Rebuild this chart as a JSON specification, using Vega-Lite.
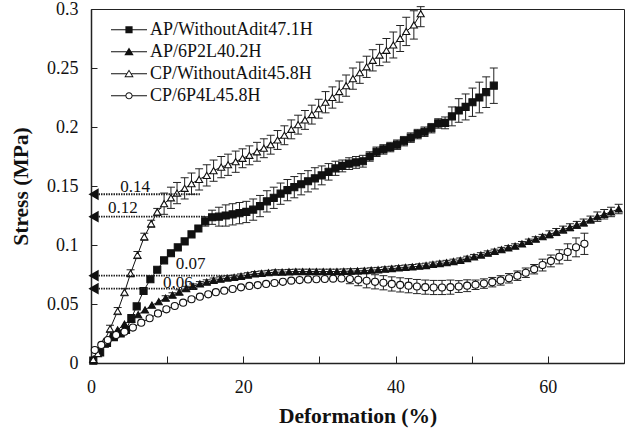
{
  "$schema": "https://vega.github.io/schema/vega-lite/v6.json",
  "width": 533,
  "height": 354,
  "autosize": {"type": "none"},
  "padding": {"left": 91, "top": 9, "right": 2, "bottom": 73},
  "background": "white",
  "config": {
    "font": "Liberation Serif",
    "view": {"stroke": "#222", "strokeWidth": 1},
    "axis": {
      "grid": false,
      "domainColor": "#222",
      "tickColor": "#222",
      "labelFont": "Liberation Serif",
      "labelFontSize": 18,
      "labelColor": "#111",
      "titleFont": "Liberation Serif",
      "titleFontSize": 21.5,
      "titleFontWeight": "bold",
      "titleColor": "#111"
    }
  },
  "resolve": {"scale": {"shape": "independent", "fill": "independent"}},
  "datasets": {
    "s": [
      {"s": "AP/WithoutAdit47.1H", "x": 0.3, "y": 0.002},
      {"s": "AP/WithoutAdit47.1H", "x": 1.2, "y": 0.009},
      {"s": "AP/WithoutAdit47.1H", "x": 2.1, "y": 0.017},
      {"s": "AP/WithoutAdit47.1H", "x": 3.0, "y": 0.022},
      {"s": "AP/WithoutAdit47.1H", "x": 3.9, "y": 0.025},
      {"s": "AP/WithoutAdit47.1H", "x": 4.6, "y": 0.028},
      {"s": "AP/WithoutAdit47.1H", "x": 5.3, "y": 0.038},
      {"s": "AP/WithoutAdit47.1H", "x": 6.0, "y": 0.048},
      {"s": "AP/WithoutAdit47.1H", "x": 6.9, "y": 0.061},
      {"s": "AP/WithoutAdit47.1H", "x": 7.8, "y": 0.071},
      {"s": "AP/WithoutAdit47.1H", "x": 8.7, "y": 0.079},
      {"s": "AP/WithoutAdit47.1H", "x": 9.6, "y": 0.087},
      {"s": "AP/WithoutAdit47.1H", "x": 10.5, "y": 0.093},
      {"s": "AP/WithoutAdit47.1H", "x": 11.4, "y": 0.098},
      {"s": "AP/WithoutAdit47.1H", "x": 12.3, "y": 0.103},
      {"s": "AP/WithoutAdit47.1H", "x": 13.2, "y": 0.109},
      {"s": "AP/WithoutAdit47.1H", "x": 14.1, "y": 0.114},
      {"s": "AP/WithoutAdit47.1H", "x": 15.0, "y": 0.120, "lo": 0.116, "hi": 0.124},
      {"s": "AP/WithoutAdit47.1H", "x": 15.9, "y": 0.1235, "lo": 0.1175, "hi": 0.1295},
      {"s": "AP/WithoutAdit47.1H", "x": 16.8, "y": 0.124, "lo": 0.116, "hi": 0.132},
      {"s": "AP/WithoutAdit47.1H", "x": 17.7, "y": 0.125, "lo": 0.116, "hi": 0.134},
      {"s": "AP/WithoutAdit47.1H", "x": 18.6, "y": 0.126, "lo": 0.117, "hi": 0.135},
      {"s": "AP/WithoutAdit47.1H", "x": 19.5, "y": 0.127, "lo": 0.118, "hi": 0.136},
      {"s": "AP/WithoutAdit47.1H", "x": 20.4, "y": 0.128, "lo": 0.119, "hi": 0.137},
      {"s": "AP/WithoutAdit47.1H", "x": 21.3, "y": 0.130, "lo": 0.121, "hi": 0.139},
      {"s": "AP/WithoutAdit47.1H", "x": 22.2, "y": 0.133, "lo": 0.124, "hi": 0.142},
      {"s": "AP/WithoutAdit47.1H", "x": 23.1, "y": 0.137, "lo": 0.128, "hi": 0.146},
      {"s": "AP/WithoutAdit47.1H", "x": 24.0, "y": 0.140, "lo": 0.131, "hi": 0.149},
      {"s": "AP/WithoutAdit47.1H", "x": 24.9, "y": 0.1435, "lo": 0.1345, "hi": 0.1525},
      {"s": "AP/WithoutAdit47.1H", "x": 25.8, "y": 0.1465, "lo": 0.1375, "hi": 0.1555},
      {"s": "AP/WithoutAdit47.1H", "x": 26.7, "y": 0.149, "lo": 0.140, "hi": 0.158},
      {"s": "AP/WithoutAdit47.1H", "x": 27.6, "y": 0.1515, "lo": 0.1425, "hi": 0.1605},
      {"s": "AP/WithoutAdit47.1H", "x": 28.5, "y": 0.154, "lo": 0.145, "hi": 0.163},
      {"s": "AP/WithoutAdit47.1H", "x": 29.4, "y": 0.1565, "lo": 0.1475, "hi": 0.1655},
      {"s": "AP/WithoutAdit47.1H", "x": 30.3, "y": 0.159, "lo": 0.151, "hi": 0.167},
      {"s": "AP/WithoutAdit47.1H", "x": 31.2, "y": 0.162, "lo": 0.155, "hi": 0.169},
      {"s": "AP/WithoutAdit47.1H", "x": 32.1, "y": 0.165, "lo": 0.159, "hi": 0.171},
      {"s": "AP/WithoutAdit47.1H", "x": 33.0, "y": 0.167, "lo": 0.162, "hi": 0.172},
      {"s": "AP/WithoutAdit47.1H", "x": 33.9, "y": 0.169, "lo": 0.164, "hi": 0.174},
      {"s": "AP/WithoutAdit47.1H", "x": 34.8, "y": 0.170, "lo": 0.165, "hi": 0.175},
      {"s": "AP/WithoutAdit47.1H", "x": 35.7, "y": 0.171, "lo": 0.166, "hi": 0.176},
      {"s": "AP/WithoutAdit47.1H", "x": 36.6, "y": 0.175, "lo": 0.171, "hi": 0.179},
      {"s": "AP/WithoutAdit47.1H", "x": 37.5, "y": 0.179, "lo": 0.175, "hi": 0.183},
      {"s": "AP/WithoutAdit47.1H", "x": 38.4, "y": 0.181, "lo": 0.177, "hi": 0.185},
      {"s": "AP/WithoutAdit47.1H", "x": 39.3, "y": 0.183, "lo": 0.179, "hi": 0.187},
      {"s": "AP/WithoutAdit47.1H", "x": 40.2, "y": 0.185, "lo": 0.181, "hi": 0.189},
      {"s": "AP/WithoutAdit47.1H", "x": 41.1, "y": 0.188, "lo": 0.184, "hi": 0.192},
      {"s": "AP/WithoutAdit47.1H", "x": 42.0, "y": 0.191, "lo": 0.187, "hi": 0.195},
      {"s": "AP/WithoutAdit47.1H", "x": 42.9, "y": 0.194, "lo": 0.190, "hi": 0.198},
      {"s": "AP/WithoutAdit47.1H", "x": 43.8, "y": 0.196, "lo": 0.192, "hi": 0.200},
      {"s": "AP/WithoutAdit47.1H", "x": 44.7, "y": 0.199, "lo": 0.195, "hi": 0.203},
      {"s": "AP/WithoutAdit47.1H", "x": 45.6, "y": 0.203, "lo": 0.199, "hi": 0.207},
      {"s": "AP/WithoutAdit47.1H", "x": 46.5, "y": 0.2035, "lo": 0.1985, "hi": 0.2085},
      {"s": "AP/WithoutAdit47.1H", "x": 47.4, "y": 0.209, "lo": 0.201, "hi": 0.217},
      {"s": "AP/WithoutAdit47.1H", "x": 48.3, "y": 0.214, "lo": 0.204, "hi": 0.224},
      {"s": "AP/WithoutAdit47.1H", "x": 49.2, "y": 0.217, "lo": 0.206, "hi": 0.228},
      {"s": "AP/WithoutAdit47.1H", "x": 50.1, "y": 0.221, "lo": 0.209, "hi": 0.233},
      {"s": "AP/WithoutAdit47.1H", "x": 51.0, "y": 0.225, "lo": 0.212, "hi": 0.238},
      {"s": "AP/WithoutAdit47.1H", "x": 51.9, "y": 0.2295, "lo": 0.2165, "hi": 0.2425},
      {"s": "AP/WithoutAdit47.1H", "x": 52.9, "y": 0.235, "lo": 0.220, "hi": 0.250},

      {"s": "AP/6P2L40.2H", "x": 0.3, "y": 0.003},
      {"s": "AP/6P2L40.2H", "x": 1.0, "y": 0.009},
      {"s": "AP/6P2L40.2H", "x": 1.8, "y": 0.016},
      {"s": "AP/6P2L40.2H", "x": 2.6, "y": 0.022},
      {"s": "AP/6P2L40.2H", "x": 3.5, "y": 0.028},
      {"s": "AP/6P2L40.2H", "x": 4.4, "y": 0.033},
      {"s": "AP/6P2L40.2H", "x": 5.3, "y": 0.037},
      {"s": "AP/6P2L40.2H", "x": 6.2, "y": 0.041},
      {"s": "AP/6P2L40.2H", "x": 7.1, "y": 0.045},
      {"s": "AP/6P2L40.2H", "x": 8.0, "y": 0.049},
      {"s": "AP/6P2L40.2H", "x": 8.9, "y": 0.052},
      {"s": "AP/6P2L40.2H", "x": 9.8, "y": 0.055, "lo": 0.053, "hi": 0.057},
      {"s": "AP/6P2L40.2H", "x": 10.7, "y": 0.0575, "lo": 0.0555, "hi": 0.0595},
      {"s": "AP/6P2L40.2H", "x": 11.6, "y": 0.060, "lo": 0.058, "hi": 0.062},
      {"s": "AP/6P2L40.2H", "x": 12.5, "y": 0.063, "lo": 0.061, "hi": 0.065},
      {"s": "AP/6P2L40.2H", "x": 13.4, "y": 0.065, "lo": 0.063, "hi": 0.067},
      {"s": "AP/6P2L40.2H", "x": 14.3, "y": 0.067, "lo": 0.065, "hi": 0.069},
      {"s": "AP/6P2L40.2H", "x": 15.2, "y": 0.0685, "lo": 0.0665, "hi": 0.0705},
      {"s": "AP/6P2L40.2H", "x": 16.1, "y": 0.070, "lo": 0.068, "hi": 0.072},
      {"s": "AP/6P2L40.2H", "x": 17.0, "y": 0.071, "lo": 0.069, "hi": 0.073},
      {"s": "AP/6P2L40.2H", "x": 17.9, "y": 0.072, "lo": 0.070, "hi": 0.074},
      {"s": "AP/6P2L40.2H", "x": 18.8, "y": 0.0725, "lo": 0.0705, "hi": 0.0745},
      {"s": "AP/6P2L40.2H", "x": 19.7, "y": 0.0735, "lo": 0.0715, "hi": 0.0755},
      {"s": "AP/6P2L40.2H", "x": 20.6, "y": 0.0745, "lo": 0.0725, "hi": 0.0765},
      {"s": "AP/6P2L40.2H", "x": 21.5, "y": 0.0755, "lo": 0.0735, "hi": 0.0775},
      {"s": "AP/6P2L40.2H", "x": 22.4, "y": 0.076, "lo": 0.074, "hi": 0.078},
      {"s": "AP/6P2L40.2H", "x": 23.3, "y": 0.0765, "lo": 0.0745, "hi": 0.0785},
      {"s": "AP/6P2L40.2H", "x": 24.2, "y": 0.077, "lo": 0.075, "hi": 0.079},
      {"s": "AP/6P2L40.2H", "x": 25.1, "y": 0.077, "lo": 0.075, "hi": 0.079},
      {"s": "AP/6P2L40.2H", "x": 26.0, "y": 0.0773, "lo": 0.0753, "hi": 0.0793},
      {"s": "AP/6P2L40.2H", "x": 26.9, "y": 0.0775, "lo": 0.0755, "hi": 0.0795},
      {"s": "AP/6P2L40.2H", "x": 27.8, "y": 0.0775, "lo": 0.0755, "hi": 0.0795},
      {"s": "AP/6P2L40.2H", "x": 28.7, "y": 0.0775, "lo": 0.0755, "hi": 0.0795},
      {"s": "AP/6P2L40.2H", "x": 29.6, "y": 0.0775, "lo": 0.0755, "hi": 0.0795},
      {"s": "AP/6P2L40.2H", "x": 30.5, "y": 0.0775, "lo": 0.0755, "hi": 0.0795},
      {"s": "AP/6P2L40.2H", "x": 31.4, "y": 0.0775, "lo": 0.0755, "hi": 0.0795},
      {"s": "AP/6P2L40.2H", "x": 32.3, "y": 0.0775, "lo": 0.0755, "hi": 0.0795},
      {"s": "AP/6P2L40.2H", "x": 33.2, "y": 0.0777, "lo": 0.0757, "hi": 0.0797},
      {"s": "AP/6P2L40.2H", "x": 34.1, "y": 0.0778, "lo": 0.0758, "hi": 0.0798},
      {"s": "AP/6P2L40.2H", "x": 35.0, "y": 0.078, "lo": 0.076, "hi": 0.080},
      {"s": "AP/6P2L40.2H", "x": 35.9, "y": 0.0783, "lo": 0.0763, "hi": 0.0803},
      {"s": "AP/6P2L40.2H", "x": 36.8, "y": 0.0787, "lo": 0.0767, "hi": 0.0807},
      {"s": "AP/6P2L40.2H", "x": 37.7, "y": 0.079, "lo": 0.077, "hi": 0.081},
      {"s": "AP/6P2L40.2H", "x": 38.6, "y": 0.0795, "lo": 0.0775, "hi": 0.0815},
      {"s": "AP/6P2L40.2H", "x": 39.5, "y": 0.080, "lo": 0.078, "hi": 0.082},
      {"s": "AP/6P2L40.2H", "x": 40.4, "y": 0.0805, "lo": 0.0785, "hi": 0.0825},
      {"s": "AP/6P2L40.2H", "x": 41.3, "y": 0.081, "lo": 0.079, "hi": 0.083},
      {"s": "AP/6P2L40.2H", "x": 42.2, "y": 0.0815, "lo": 0.0795, "hi": 0.0835},
      {"s": "AP/6P2L40.2H", "x": 43.1, "y": 0.082, "lo": 0.080, "hi": 0.084},
      {"s": "AP/6P2L40.2H", "x": 44.0, "y": 0.0826, "lo": 0.0806, "hi": 0.0846},
      {"s": "AP/6P2L40.2H", "x": 44.9, "y": 0.0835, "lo": 0.0815, "hi": 0.0855},
      {"s": "AP/6P2L40.2H", "x": 45.8, "y": 0.0843, "lo": 0.0823, "hi": 0.0863},
      {"s": "AP/6P2L40.2H", "x": 46.7, "y": 0.085, "lo": 0.083, "hi": 0.087},
      {"s": "AP/6P2L40.2H", "x": 47.6, "y": 0.086, "lo": 0.084, "hi": 0.088},
      {"s": "AP/6P2L40.2H", "x": 48.5, "y": 0.087, "lo": 0.085, "hi": 0.089},
      {"s": "AP/6P2L40.2H", "x": 49.4, "y": 0.0885, "lo": 0.0865, "hi": 0.0905},
      {"s": "AP/6P2L40.2H", "x": 50.3, "y": 0.090, "lo": 0.088, "hi": 0.092},
      {"s": "AP/6P2L40.2H", "x": 51.2, "y": 0.0915, "lo": 0.0895, "hi": 0.0935},
      {"s": "AP/6P2L40.2H", "x": 52.1, "y": 0.093, "lo": 0.091, "hi": 0.095},
      {"s": "AP/6P2L40.2H", "x": 53.0, "y": 0.0945, "lo": 0.0925, "hi": 0.0965},
      {"s": "AP/6P2L40.2H", "x": 53.9, "y": 0.096, "lo": 0.094, "hi": 0.098},
      {"s": "AP/6P2L40.2H", "x": 54.8, "y": 0.0975, "lo": 0.0955, "hi": 0.0995},
      {"s": "AP/6P2L40.2H", "x": 55.7, "y": 0.099, "lo": 0.097, "hi": 0.101},
      {"s": "AP/6P2L40.2H", "x": 56.6, "y": 0.101, "lo": 0.099, "hi": 0.103},
      {"s": "AP/6P2L40.2H", "x": 57.5, "y": 0.103, "lo": 0.101, "hi": 0.105},
      {"s": "AP/6P2L40.2H", "x": 58.4, "y": 0.105, "lo": 0.103, "hi": 0.107},
      {"s": "AP/6P2L40.2H", "x": 59.3, "y": 0.107, "lo": 0.105, "hi": 0.109},
      {"s": "AP/6P2L40.2H", "x": 60.2, "y": 0.109, "lo": 0.106, "hi": 0.112},
      {"s": "AP/6P2L40.2H", "x": 61.1, "y": 0.111, "lo": 0.108, "hi": 0.114},
      {"s": "AP/6P2L40.2H", "x": 62.0, "y": 0.113, "lo": 0.110, "hi": 0.116},
      {"s": "AP/6P2L40.2H", "x": 62.9, "y": 0.115, "lo": 0.112, "hi": 0.118},
      {"s": "AP/6P2L40.2H", "x": 63.8, "y": 0.117, "lo": 0.114, "hi": 0.120},
      {"s": "AP/6P2L40.2H", "x": 64.7, "y": 0.119, "lo": 0.116, "hi": 0.122},
      {"s": "AP/6P2L40.2H", "x": 65.6, "y": 0.1215, "lo": 0.1185, "hi": 0.1245},
      {"s": "AP/6P2L40.2H", "x": 66.5, "y": 0.124, "lo": 0.120, "hi": 0.128},
      {"s": "AP/6P2L40.2H", "x": 67.4, "y": 0.126, "lo": 0.122, "hi": 0.130},
      {"s": "AP/6P2L40.2H", "x": 68.3, "y": 0.128, "lo": 0.124, "hi": 0.132},
      {"s": "AP/6P2L40.2H", "x": 69.3, "y": 0.1305, "lo": 0.1265, "hi": 0.1345},

      {"s": "CP/WithoutAdit45.8H", "x": 0.3, "y": 0.003},
      {"s": "CP/WithoutAdit45.8H", "x": 0.9, "y": 0.008},
      {"s": "CP/WithoutAdit45.8H", "x": 1.7, "y": 0.018},
      {"s": "CP/WithoutAdit45.8H", "x": 2.5, "y": 0.029, "lo": 0.026, "hi": 0.032},
      {"s": "CP/WithoutAdit45.8H", "x": 3.5, "y": 0.044, "lo": 0.041, "hi": 0.047},
      {"s": "CP/WithoutAdit45.8H", "x": 4.4, "y": 0.060, "lo": 0.057, "hi": 0.063},
      {"s": "CP/WithoutAdit45.8H", "x": 5.2, "y": 0.076, "lo": 0.073, "hi": 0.079},
      {"s": "CP/WithoutAdit45.8H", "x": 6.1, "y": 0.0915, "lo": 0.0885, "hi": 0.0945},
      {"s": "CP/WithoutAdit45.8H", "x": 7.0, "y": 0.107, "lo": 0.104, "hi": 0.110},
      {"s": "CP/WithoutAdit45.8H", "x": 7.9, "y": 0.118, "lo": 0.115, "hi": 0.121},
      {"s": "CP/WithoutAdit45.8H", "x": 8.7, "y": 0.128, "lo": 0.125, "hi": 0.131},
      {"s": "CP/WithoutAdit45.8H", "x": 9.6, "y": 0.135, "lo": 0.126, "hi": 0.144},
      {"s": "CP/WithoutAdit45.8H", "x": 10.5, "y": 0.140, "lo": 0.131, "hi": 0.149},
      {"s": "CP/WithoutAdit45.8H", "x": 11.3, "y": 0.144, "lo": 0.135, "hi": 0.153},
      {"s": "CP/WithoutAdit45.8H", "x": 12.3, "y": 0.148, "lo": 0.139, "hi": 0.157},
      {"s": "CP/WithoutAdit45.8H", "x": 13.2, "y": 0.152, "lo": 0.143, "hi": 0.161},
      {"s": "CP/WithoutAdit45.8H", "x": 14.2, "y": 0.1556, "lo": 0.1466, "hi": 0.1646},
      {"s": "CP/WithoutAdit45.8H", "x": 15.2, "y": 0.159, "lo": 0.150, "hi": 0.168},
      {"s": "CP/WithoutAdit45.8H", "x": 16.1, "y": 0.163, "lo": 0.154, "hi": 0.172},
      {"s": "CP/WithoutAdit45.8H", "x": 17.1, "y": 0.166, "lo": 0.157, "hi": 0.175},
      {"s": "CP/WithoutAdit45.8H", "x": 18.0, "y": 0.168, "lo": 0.159, "hi": 0.177},
      {"s": "CP/WithoutAdit45.8H", "x": 19.0, "y": 0.1706, "lo": 0.1616, "hi": 0.1796},
      {"s": "CP/WithoutAdit45.8H", "x": 19.9, "y": 0.1735, "lo": 0.1655, "hi": 0.1815},
      {"s": "CP/WithoutAdit45.8H", "x": 20.8, "y": 0.176, "lo": 0.168, "hi": 0.184},
      {"s": "CP/WithoutAdit45.8H", "x": 21.8, "y": 0.179, "lo": 0.171, "hi": 0.187},
      {"s": "CP/WithoutAdit45.8H", "x": 22.7, "y": 0.182, "lo": 0.174, "hi": 0.190},
      {"s": "CP/WithoutAdit45.8H", "x": 23.6, "y": 0.185, "lo": 0.177, "hi": 0.193},
      {"s": "CP/WithoutAdit45.8H", "x": 24.5, "y": 0.189, "lo": 0.181, "hi": 0.197},
      {"s": "CP/WithoutAdit45.8H", "x": 25.4, "y": 0.193, "lo": 0.185, "hi": 0.201},
      {"s": "CP/WithoutAdit45.8H", "x": 26.3, "y": 0.198, "lo": 0.190, "hi": 0.206},
      {"s": "CP/WithoutAdit45.8H", "x": 27.2, "y": 0.202, "lo": 0.194, "hi": 0.210},
      {"s": "CP/WithoutAdit45.8H", "x": 28.1, "y": 0.206, "lo": 0.198, "hi": 0.214},
      {"s": "CP/WithoutAdit45.8H", "x": 29.0, "y": 0.2105, "lo": 0.2025, "hi": 0.2185},
      {"s": "CP/WithoutAdit45.8H", "x": 29.9, "y": 0.2155, "lo": 0.2075, "hi": 0.2235},
      {"s": "CP/WithoutAdit45.8H", "x": 30.8, "y": 0.221, "lo": 0.212, "hi": 0.230},
      {"s": "CP/WithoutAdit45.8H", "x": 31.7, "y": 0.225, "lo": 0.216, "hi": 0.234},
      {"s": "CP/WithoutAdit45.8H", "x": 32.6, "y": 0.230, "lo": 0.221, "hi": 0.239},
      {"s": "CP/WithoutAdit45.8H", "x": 33.5, "y": 0.235, "lo": 0.226, "hi": 0.244},
      {"s": "CP/WithoutAdit45.8H", "x": 34.4, "y": 0.241, "lo": 0.232, "hi": 0.250},
      {"s": "CP/WithoutAdit45.8H", "x": 35.3, "y": 0.246, "lo": 0.237, "hi": 0.255},
      {"s": "CP/WithoutAdit45.8H", "x": 36.2, "y": 0.251, "lo": 0.242, "hi": 0.260},
      {"s": "CP/WithoutAdit45.8H", "x": 37.0, "y": 0.2565, "lo": 0.2475, "hi": 0.2655},
      {"s": "CP/WithoutAdit45.8H", "x": 37.9, "y": 0.261, "lo": 0.252, "hi": 0.270},
      {"s": "CP/WithoutAdit45.8H", "x": 38.8, "y": 0.265, "lo": 0.255, "hi": 0.275},
      {"s": "CP/WithoutAdit45.8H", "x": 39.7, "y": 0.2695, "lo": 0.2585, "hi": 0.2805},
      {"s": "CP/WithoutAdit45.8H", "x": 40.6, "y": 0.275, "lo": 0.264, "hi": 0.286},
      {"s": "CP/WithoutAdit45.8H", "x": 41.4, "y": 0.281, "lo": 0.269, "hi": 0.293},
      {"s": "CP/WithoutAdit45.8H", "x": 42.4, "y": 0.2865, "lo": 0.2745, "hi": 0.2985},
      {"s": "CP/WithoutAdit45.8H", "x": 43.3, "y": 0.296, "lo": 0.285, "hi": 0.302},

      {"s": "CP/6P4L45.8H", "x": 0.5, "y": 0.011},
      {"s": "CP/6P4L45.8H", "x": 1.35, "y": 0.0153},
      {"s": "CP/6P4L45.8H", "x": 2.2, "y": 0.0195},
      {"s": "CP/6P4L45.8H", "x": 3.3, "y": 0.0237},
      {"s": "CP/6P4L45.8H", "x": 4.4, "y": 0.0265},
      {"s": "CP/6P4L45.8H", "x": 5.5, "y": 0.030},
      {"s": "CP/6P4L45.8H", "x": 6.6, "y": 0.0342},
      {"s": "CP/6P4L45.8H", "x": 7.7, "y": 0.0379},
      {"s": "CP/6P4L45.8H", "x": 8.8, "y": 0.042},
      {"s": "CP/6P4L45.8H", "x": 9.9, "y": 0.0455},
      {"s": "CP/6P4L45.8H", "x": 11.0, "y": 0.0483},
      {"s": "CP/6P4L45.8H", "x": 12.1, "y": 0.0511},
      {"s": "CP/6P4L45.8H", "x": 13.2, "y": 0.054},
      {"s": "CP/6P4L45.8H", "x": 14.3, "y": 0.0562},
      {"s": "CP/6P4L45.8H", "x": 15.4, "y": 0.0582},
      {"s": "CP/6P4L45.8H", "x": 16.4, "y": 0.060},
      {"s": "CP/6P4L45.8H", "x": 17.5, "y": 0.0613},
      {"s": "CP/6P4L45.8H", "x": 18.6, "y": 0.0627},
      {"s": "CP/6P4L45.8H", "x": 19.7, "y": 0.0641},
      {"s": "CP/6P4L45.8H", "x": 20.8, "y": 0.0653},
      {"s": "CP/6P4L45.8H", "x": 21.9, "y": 0.066},
      {"s": "CP/6P4L45.8H", "x": 23.0, "y": 0.067},
      {"s": "CP/6P4L45.8H", "x": 24.1, "y": 0.0678},
      {"s": "CP/6P4L45.8H", "x": 25.2, "y": 0.0688},
      {"s": "CP/6P4L45.8H", "x": 26.3, "y": 0.0698},
      {"s": "CP/6P4L45.8H", "x": 27.4, "y": 0.0703},
      {"s": "CP/6P4L45.8H", "x": 28.5, "y": 0.0708},
      {"s": "CP/6P4L45.8H", "x": 29.6, "y": 0.071},
      {"s": "CP/6P4L45.8H", "x": 30.7, "y": 0.0712},
      {"s": "CP/6P4L45.8H", "x": 31.8, "y": 0.0715},
      {"s": "CP/6P4L45.8H", "x": 32.9, "y": 0.0716},
      {"s": "CP/6P4L45.8H", "x": 34.0, "y": 0.0712, "lo": 0.0672, "hi": 0.0752},
      {"s": "CP/6P4L45.8H", "x": 35.1, "y": 0.0705, "lo": 0.0655, "hi": 0.0755},
      {"s": "CP/6P4L45.8H", "x": 36.2, "y": 0.0697, "lo": 0.0637, "hi": 0.0757},
      {"s": "CP/6P4L45.8H", "x": 37.3, "y": 0.0688, "lo": 0.0628, "hi": 0.0748},
      {"s": "CP/6P4L45.8H", "x": 38.4, "y": 0.068, "lo": 0.062, "hi": 0.074},
      {"s": "CP/6P4L45.8H", "x": 39.5, "y": 0.067, "lo": 0.061, "hi": 0.073},
      {"s": "CP/6P4L45.8H", "x": 40.6, "y": 0.0662, "lo": 0.0602, "hi": 0.0722},
      {"s": "CP/6P4L45.8H", "x": 41.7, "y": 0.0655, "lo": 0.0595, "hi": 0.0715},
      {"s": "CP/6P4L45.8H", "x": 42.8, "y": 0.0648, "lo": 0.0588, "hi": 0.0708},
      {"s": "CP/6P4L45.8H", "x": 43.9, "y": 0.0643, "lo": 0.0583, "hi": 0.0703},
      {"s": "CP/6P4L45.8H", "x": 45.0, "y": 0.064, "lo": 0.058, "hi": 0.070},
      {"s": "CP/6P4L45.8H", "x": 46.1, "y": 0.064, "lo": 0.058, "hi": 0.070},
      {"s": "CP/6P4L45.8H", "x": 47.2, "y": 0.0643, "lo": 0.0583, "hi": 0.0703},
      {"s": "CP/6P4L45.8H", "x": 48.3, "y": 0.0648, "lo": 0.0598, "hi": 0.0698},
      {"s": "CP/6P4L45.8H", "x": 49.4, "y": 0.0655, "lo": 0.0605, "hi": 0.0705},
      {"s": "CP/6P4L45.8H", "x": 50.5, "y": 0.0663, "lo": 0.0623, "hi": 0.0703},
      {"s": "CP/6P4L45.8H", "x": 51.6, "y": 0.0673, "lo": 0.0633, "hi": 0.0713},
      {"s": "CP/6P4L45.8H", "x": 52.7, "y": 0.0685, "lo": 0.0645, "hi": 0.0725},
      {"s": "CP/6P4L45.8H", "x": 53.8, "y": 0.070, "lo": 0.066, "hi": 0.074},
      {"s": "CP/6P4L45.8H", "x": 54.9, "y": 0.0718, "lo": 0.0678, "hi": 0.0758},
      {"s": "CP/6P4L45.8H", "x": 56.0, "y": 0.074, "lo": 0.070, "hi": 0.078},
      {"s": "CP/6P4L45.8H", "x": 57.1, "y": 0.0765, "lo": 0.0725, "hi": 0.0805},
      {"s": "CP/6P4L45.8H", "x": 58.2, "y": 0.0795, "lo": 0.0755, "hi": 0.0835},
      {"s": "CP/6P4L45.8H", "x": 59.3, "y": 0.083, "lo": 0.078, "hi": 0.088},
      {"s": "CP/6P4L45.8H", "x": 60.4, "y": 0.0865, "lo": 0.0815, "hi": 0.0915},
      {"s": "CP/6P4L45.8H", "x": 61.5, "y": 0.090, "lo": 0.084, "hi": 0.096},
      {"s": "CP/6P4L45.8H", "x": 62.6, "y": 0.094, "lo": 0.087, "hi": 0.101},
      {"s": "CP/6P4L45.8H", "x": 63.7, "y": 0.098, "lo": 0.090, "hi": 0.106},
      {"s": "CP/6P4L45.8H", "x": 64.8, "y": 0.101, "lo": 0.092, "hi": 0.110}
    ],
    "ann": [
      {"label": "0.14", "y": 0.143, "x0": 0, "xa": 0.4, "xend": 14.3, "lx": 5.8, "ly": 0.149},
      {"label": "0.12", "y": 0.124, "x0": 0, "xa": 0.4, "xend": 15.0, "lx": 4.2, "ly": 0.131},
      {"label": "0.07", "y": 0.074, "x0": 0, "xa": 0.4, "xend": 19.5, "lx": 13.1, "ly": 0.0835},
      {"label": "0.06", "y": 0.063, "x0": 0, "xa": 0.4, "xend": 14.0, "lx": 11.4, "ly": 0.0675}
    ]
  },
  "layer": [
    {
      "data": {"name": "s"},
      "mark": {"type": "line", "stroke": "#111", "strokeWidth": 1},
      "encoding": {
        "x": {
          "field": "x",
          "type": "quantitative",
          "scale": {"domain": [0, 70], "nice": false, "zero": false},
          "axis": {
            "title": "Deformation (%)",
            "values": [0, 10, 20, 30, 40, 50, 60, 70],
            "labelExpr": "datum.value % 20 === 0 && datum.value < 70 ? datum.label : ''",
            "tickSize": -7,
            "labelPadding": 22,
            "titlePadding": 9,
            "labelFlush": false,
            "domainWidth": 1.5
          }
        },
        "y": {
          "field": "y",
          "type": "quantitative",
          "scale": {"domain": [0, 0.3], "nice": false},
          "axis": {
            "title": "Stress (MPa)",
            "values": [0, 0.05, 0.1, 0.15, 0.2, 0.25, 0.3],
            "format": ".2~f",
            "tickSize": -6,
            "labelPadding": 19,
            "titlePadding": 14,
            "labelFlush": false,
            "domainWidth": 1.5
          }
        },
        "detail": {"field": "s", "type": "nominal"},
        "order": {"field": "x", "type": "quantitative"}
      }
    },
    {
      "data": {"name": "s"},
      "mark": {"type": "rule", "stroke": "#222", "strokeWidth": 1},
      "encoding": {
        "x": {"field": "x", "type": "quantitative"},
        "y": {"field": "lo", "type": "quantitative"},
        "y2": {"field": "hi"}
      }
    },
    {
      "data": {"name": "s"},
      "mark": {"type": "tick", "orient": "horizontal", "color": "#222", "thickness": 1, "size": 8, "opacity": 1},
      "encoding": {
        "x": {"field": "x", "type": "quantitative"},
        "y": {"field": "lo", "type": "quantitative"}
      }
    },
    {
      "data": {"name": "s"},
      "mark": {"type": "tick", "orient": "horizontal", "color": "#222", "thickness": 1, "size": 8, "opacity": 1},
      "encoding": {
        "x": {"field": "x", "type": "quantitative"},
        "y": {"field": "hi", "type": "quantitative"}
      }
    },
    {
      "data": {"name": "s"},
      "mark": {"type": "point", "filled": true, "stroke": "#111", "strokeWidth": 1.1, "size": 50, "opacity": 1},
      "encoding": {
        "x": {"field": "x", "type": "quantitative"},
        "y": {"field": "y", "type": "quantitative"},
        "shape": {
          "field": "s",
          "type": "nominal",
          "scale": {
            "domain": ["AP/WithoutAdit47.1H", "AP/6P2L40.2H", "CP/WithoutAdit45.8H", "CP/6P4L45.8H"],
            "range": ["square", "triangle-up", "triangle-up", "circle"]
          },
          "legend": null
        },
        "fill": {
          "field": "s",
          "type": "nominal",
          "scale": {
            "domain": ["AP/WithoutAdit47.1H", "AP/6P2L40.2H", "CP/WithoutAdit45.8H", "CP/6P4L45.8H"],
            "range": ["#111", "#111", "white", "white"]
          },
          "legend": null
        }
      }
    },
    {
      "data": {"name": "s"},
      "transform": [{"filter": "datum.x < 0"}],
      "mark": {"type": "point", "filled": true, "size": 1296, "opacity": 1},
      "encoding": {
        "x": {"field": "x", "type": "quantitative"},
        "y": {"field": "y", "type": "quantitative"},
        "shape": {
          "field": "s",
          "type": "nominal",
          "scale": {
            "domain": ["AP/WithoutAdit47.1H", "AP/6P2L40.2H", "CP/WithoutAdit45.8H", "CP/6P4L45.8H"],
            "range": [
              "M-1,-0.028H-0.19V0.028H-1ZM0.19,-0.028H1V0.028H0.19ZM-0.2,-0.2H0.2V0.2H-0.2Z",
              "M-1,-0.028H-0.12V0.028H-1ZM0.12,-0.028H1V0.028H0.12ZM0,-0.24L0.26,0.19H-0.26Z",
              "M-1,-0.028H-0.13V0.028H-1ZM0.13,-0.028H1V0.028H0.13ZM0,-0.24L0.26,0.19H-0.26ZM0,-0.14L-0.169,0.14H0.169Z",
              "M-1,-0.028H-0.175V0.028H-1ZM0.175,-0.028H1V0.028H0.175ZM-0.2,0A0.2,0.2 0 1,1 0.2,0A0.2,0.2 0 1,1 -0.2,0ZM-0.145,0A0.145,0.145 0 1,0 0.145,0A0.145,0.145 0 1,0 -0.145,0Z"
            ]
          },
          "legend": {
            "title": null,
            "orient": "none",
            "legendX": 20,
            "legendY": 10,
            "padding": 0,
            "symbolSize": 1296,
            "clipHeight": 21.5,
            "rowPadding": 0,
            "labelOffset": 3,
            "labelFont": "Liberation Serif",
            "labelFontSize": 18,
            "labelColor": "#111",
            "labelLimit": 400,
            "symbolStrokeWidth": 0,
            "symbolOpacity": 1
          }
        },
        "fill": {
          "field": "s",
          "type": "nominal",
          "scale": {
            "domain": ["AP/WithoutAdit47.1H", "AP/6P2L40.2H", "CP/WithoutAdit45.8H", "CP/6P4L45.8H"],
            "range": ["#111", "#111", "#111", "#111"]
          }
        }
      }
    },
    {
      "data": {"name": "ann"},
      "mark": {"type": "rule", "stroke": "#222", "strokeWidth": 1.8, "strokeDash": [1.5, 1]},
      "encoding": {
        "x": {"field": "x0", "type": "quantitative"},
        "x2": {"field": "xend"},
        "y": {"field": "y", "type": "quantitative"}
      }
    },
    {
      "data": {"name": "ann"},
      "mark": {"type": "point", "shape": "triangle-left", "filled": true, "fill": "#111", "stroke": "#111", "size": 70, "opacity": 1},
      "encoding": {
        "x": {"field": "xa", "type": "quantitative"},
        "y": {"field": "y", "type": "quantitative"}
      }
    },
    {
      "data": {"name": "ann"},
      "mark": {"type": "text", "font": "Liberation Serif", "fontSize": 17, "color": "#111", "align": "center", "baseline": "middle"},
      "encoding": {
        "x": {"field": "lx", "type": "quantitative"},
        "y": {"field": "ly", "type": "quantitative"},
        "text": {"field": "label", "type": "nominal"}
      }
    }
  ]
}
